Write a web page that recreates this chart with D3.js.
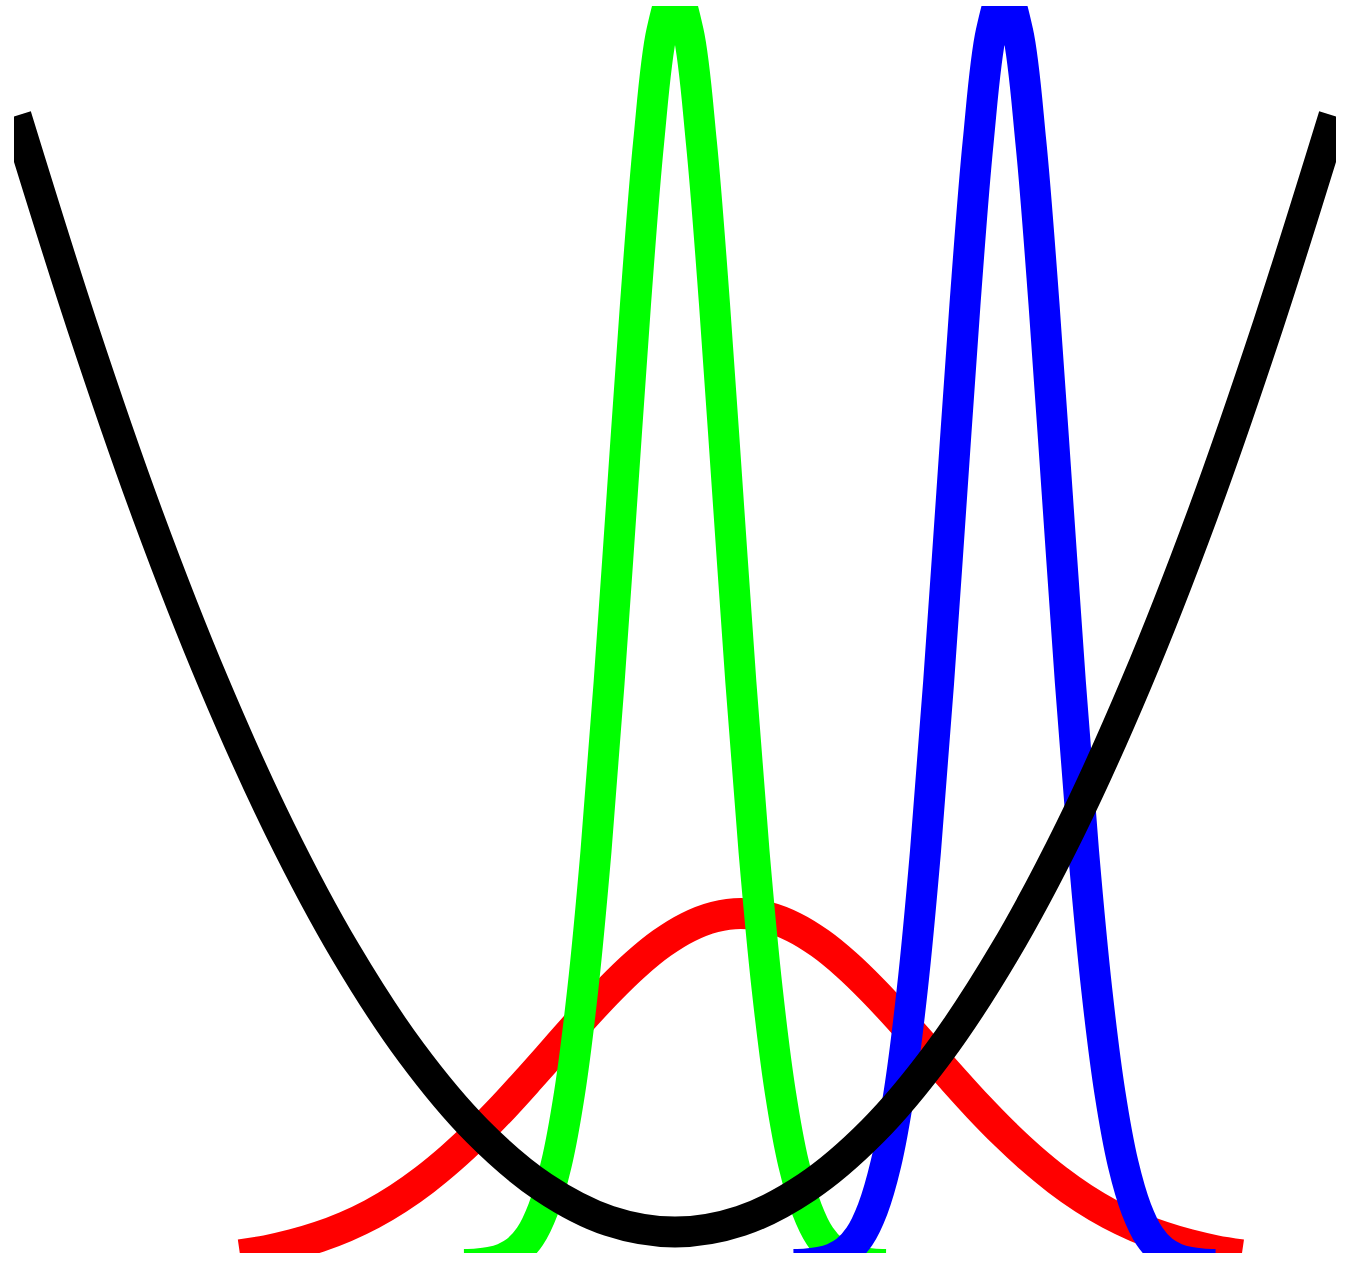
<!DOCTYPE html>
<html>
<head>
<meta charset="utf-8">
<title>Curves</title>
<script src="https://d3js.org/d3.v7.min.js"></script>
<style>
  body { margin: 0; background: #ffffff; }
  .curve { fill: none; stroke-linecap: butt; stroke-linejoin: round; }
</style>
</head>
<body>
<div id="chart"></div>
<script>
// Black parabola
var blackX = [0, 1, 2, 3, 4, 5, 6, 7, 8, 9, 10, 11, 12, 13, 14, 15, 16, 17, 18, 19, 20];
var blackY = [0.456, 0.373, 0.2975, 0.2309, 0.1731, 0.1242, 0.0842, 0.0531, 0.0309, 0.0175, 0.0131,
              0.0175, 0.0309, 0.0531, 0.0842, 0.1242, 0.1731, 0.2309, 0.2975, 0.373, 0.456];

// Red wide bump
var redX = [3.4, 3.8, 4.2, 4.6, 5.0, 5.4, 5.8, 6.2, 6.6, 7.0, 7.4, 7.8, 8.2, 8.6, 9.0, 9.4, 9.8, 10.2, 10.6, 11.0,
            11.4, 11.8, 12.2, 12.6, 13.0, 13.4, 13.8, 14.2, 14.6, 15.0, 15.4, 15.8, 16.2, 16.6, 17.0, 17.4, 17.8, 18.2, 18.6];
var redY = [0.0040, 0.0057, 0.0081, 0.0112, 0.0152, 0.0202, 0.0264, 0.0338, 0.0424, 0.0521, 0.0628, 0.0743, 0.0861,
            0.0979, 0.1091, 0.1192, 0.1277, 0.1341, 0.1381, 0.1395, 0.1381, 0.1341, 0.1277, 0.1192, 0.1091, 0.0979,
            0.0861, 0.0743, 0.0628, 0.0521, 0.0424, 0.0338, 0.0264, 0.0202, 0.0152, 0.0112, 0.0081, 0.0057, 0.0040];

// Green narrow peak
var greenX = [6.8, 7.0, 7.2, 7.4, 7.6, 7.8, 8.0, 8.2, 8.4, 8.6, 8.8, 9.0, 9.2, 9.4, 9.6, 9.8, 10.0,
              10.2, 10.4, 10.6, 10.8, 11.0, 11.2, 11.4, 11.6, 11.8, 12.0, 12.2, 12.4, 12.6, 12.8, 13.0, 13.2];
var greenY = [0.0002, 0.0004, 0.0011, 0.0026, 0.0056, 0.0114, 0.0222, 0.0401, 0.0683, 0.1092, 0.1639, 0.2311,
              0.3062, 0.3811, 0.4456, 0.4895, 0.505, 0.4895, 0.4456, 0.3811, 0.3062, 0.2311, 0.1639, 0.1092,
              0.0683, 0.0401, 0.0222, 0.0114, 0.0056, 0.0026, 0.0011, 0.0004, 0.0002];

// Blue narrow peak
var blueX = [11.8, 12.0, 12.2, 12.4, 12.6, 12.8, 13.0, 13.2, 13.4, 13.6, 13.8, 14.0, 14.2, 14.4, 14.6, 14.8, 15.0,
             15.2, 15.4, 15.6, 15.8, 16.0, 16.2, 16.4, 16.6, 16.8, 17.0, 17.2, 17.4, 17.6, 17.8, 18.0, 18.2];
var blueY = [0.0002, 0.0004, 0.0011, 0.0026, 0.0056, 0.0114, 0.0222, 0.0401, 0.0683, 0.1092, 0.1639, 0.2311,
             0.3062, 0.3811, 0.4456, 0.4895, 0.505, 0.4895, 0.4456, 0.3811, 0.3062, 0.2311, 0.1639, 0.1092,
             0.0683, 0.0401, 0.0222, 0.0114, 0.0056, 0.0026, 0.0011, 0.0004, 0.0002];

function init() {
  var w = 1345;
  var h = 1261;

  //Plot box (curves get clipped at its edges)
  var box = { left: 14, top: 6, right: 1336, bottom: 1253 };

  //Set up scales
  var xScale = d3.scaleLinear()
    .domain([0, 20])
    .range([16, 1334]);
  var yScale = d3.scaleLinear()
    .domain([0, 0.5])
    .range([1265, 5]);

  //Line generator
  var line = d3.line()
    .x(function (d) { return xScale(d[0]); })
    .y(function (d) { return yScale(d[1]); })
    .curve(d3.curveCatmullRom);

  //Create SVG element
  var svg = d3.select("#chart")
    .append("svg")
    .attr("width", w)
    .attr("height", h);

  svg.append("rect")
    .attr("width", w)
    .attr("height", h)
    .attr("fill", "#ffffff");

  svg.append("defs")
    .append("clipPath")
    .attr("id", "plotclip")
    .append("rect")
    .attr("x", box.left)
    .attr("y", box.top)
    .attr("width", box.right - box.left)
    .attr("height", box.bottom - box.top);

  var g = svg.append("g")
    .attr("clip-path", "url(#plotclip)");

  // drawing order: red, green, blue, then black on top
  var series = [
    { xs: redX, ys: redY, color: "#ff0000" },
    { xs: greenX, ys: greenY, color: "#00ff00" },
    { xs: blueX, ys: blueY, color: "#0000ff" },
    { xs: blackX, ys: blackY, color: "#000000" }
  ];

  series.forEach(function (s) {
    var pts = s.xs.map(function (x, i) { return [x, s.ys[i]]; });
    g.append("path")
      .datum(pts)
      .attr("class", "curve")
      .attr("stroke", s.color)
      .attr("stroke-width", 31)
      .attr("d", line);
  });
}

window.onload = function () {
  init();
}
</script>
</body>
</html>
